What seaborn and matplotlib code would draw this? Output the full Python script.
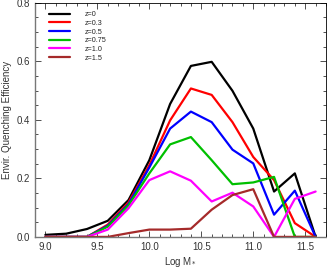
import numpy as np
import pandas as pd
import matplotlib
matplotlib.use('Agg')
import matplotlib.pyplot as plt
import seaborn as sns
from matplotlib.ticker import MultipleLocator

# stellar mass bins (log M*)
log_mass = [9.0, 9.2, 9.4, 9.6, 9.8, 10.0, 10.2, 10.4, 10.6, 10.8, 11.0, 11.2, 11.4, 11.6]

# environmental quenching efficiency per redshift
eff_z0 = [0.007, 0.011, 0.027, 0.055, 0.126, 0.262, 0.454, 0.584, 0.598, 0.499, 0.37, 0.155, 0.217, 0.0]
eff_z03 = [0.0, 0.0, 0.0, 0.042, 0.118, 0.245, 0.398, 0.507, 0.485, 0.392, 0.273, 0.194, 0.047, 0.0]
eff_z05 = [0.0, 0.0, 0.0, 0.038, 0.112, 0.237, 0.37, 0.428, 0.392, 0.298, 0.251, 0.076, 0.158, 0.0]
eff_z075 = [0.0, 0.0, 0.0, 0.035, 0.108, 0.217, 0.316, 0.341, 0.262, 0.18, 0.186, 0.205, 0.0, 0.0]
eff_z10 = [0.0, 0.0, 0.0, 0.025, 0.098, 0.194, 0.224, 0.192, 0.121, 0.151, 0.104, 0.0, 0.13, 0.155]
eff_z15 = [0.0, 0.0, 0.0, 0.0, 0.013, 0.025, 0.025, 0.028, 0.093, 0.143, 0.163, 0.0, 0.0, 0.0]

labels = ['z=0', 'z=0.3', 'z=0.5', 'z=0.75', 'z=1.0', 'z=1.5']
colors = ['#000000', '#ff0000', '#0000ff', '#00c000', '#ff00ff', '#a52a2a']

series = [eff_z0, eff_z03, eff_z05, eff_z075, eff_z10, eff_z15]
df = pd.concat([pd.DataFrame({'logm': log_mass, 'eff': s, 'z': lab})
                for s, lab in zip(series, labels)], ignore_index=True)

sns.set_style("ticks")
plt.rcParams['font.family'] = ['Liberation Sans', 'DejaVu Sans']
plt.rcParams['xtick.direction'] = 'in'
plt.rcParams['ytick.direction'] = 'in'

fig, ax = plt.subplots(figsize=(3.27, 2.68), dpi=100)
fig.subplots_adjust(left=0.107, right=0.997, top=0.99, bottom=0.116)

sns.lineplot(data=df, x='logm', y='eff', hue='z', palette=colors,
             hue_order=labels, linewidth=1.6, ax=ax, legend=False)

ax.set_xlim(8.9, 11.7)
ax.set_ylim(0, 0.8)
ax.xaxis.set_major_locator(MultipleLocator(0.5))
ax.xaxis.set_minor_locator(MultipleLocator(0.1))
ax.yaxis.set_major_locator(MultipleLocator(0.2))
ax.yaxis.set_minor_locator(MultipleLocator(0.05))
ax.tick_params(which='both', top=True, right=True, labelsize=7, colors='#333333',
               width=0.6)
ax.tick_params(which='major', length=4)
ax.tick_params(which='minor', length=2)
ax.xaxis.set_major_formatter(matplotlib.ticker.FormatStrFormatter('%.1f'))
ax.yaxis.set_major_formatter(matplotlib.ticker.FormatStrFormatter('%.1f'))
for side in ['left', 'bottom']:
    ax.spines[side].set_color('#777777')
    ax.spines[side].set_linewidth(1.0)
for side in ['top', 'right']:
    ax.spines[side].set_color('black')
    ax.spines[side].set_linewidth(0.6)

ax.set_xlabel('Log M$_{*}$', fontsize=7, color='#333333', labelpad=2)
ax.set_ylabel('Envir. Quenching Efficiency', fontsize=7, color='#333333', labelpad=3)

handles = [plt.Line2D([], [], color=c, linewidth=1.6) for c in colors]
ax.legend(handles, labels, loc='upper left', bbox_to_anchor=(0.03, 0.985),
          frameon=False, fontsize=5.2, handlelength=3.0, handletextpad=2.0,
          labelspacing=0.22, borderpad=0.2)

plt.savefig('out.png', dpi=100)
plt.close()
